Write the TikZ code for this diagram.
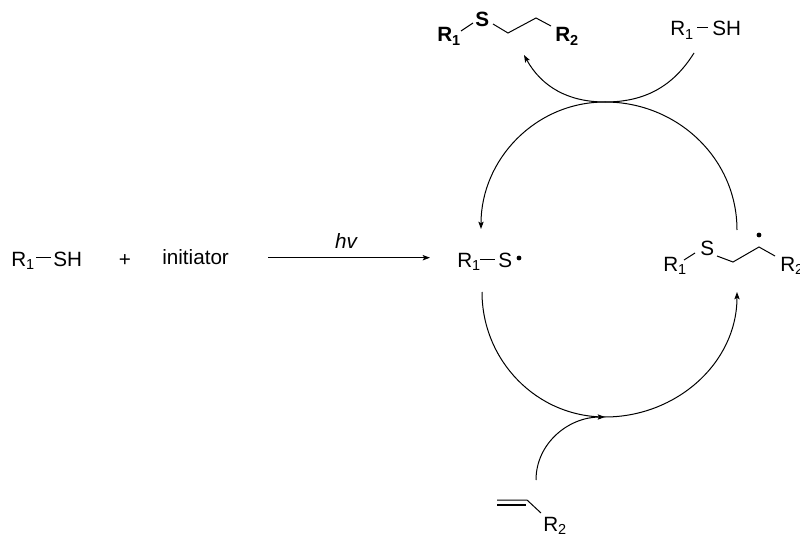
\documentclass[tikz,border=0pt]{standalone}
\usepackage{fontspec}
\setmainfont{Liberation Sans}
\usepackage{tikz}
\usetikzlibrary{arrows.meta}

\begin{document}
\begin{tikzpicture}[
  x=0.75pt, y=0.75pt,
  chem/.style={inner sep=0pt, anchor=base west, font=\fontsize{15.5}{18}\selectfont},
  chembf/.style={chem, font=\fontsize{15.5}{18}\selectfont\bfseries},
  bond/.style={line width=0.75pt},
  arc/.style={line width=0.75pt},
  ar/.style={-{Stealth[length=5.5pt, width=4pt, inset=1.2pt]}, line width=0.75pt},
  radical/.style={circle, fill=black, inner sep=0pt, minimum size=3.6pt}
]
  \useasboundingbox (0,0) rectangle (800,533);

  % left: reactants
  \node[chem] (lr) at (11,266.5) {R\textsubscript{1}};
  \node[chem] (lsh) at (53,266.5) {SH};
  \node[chem, anchor=base] (plus) at (125,267) {+};
  \node[chem] (init) at (162,268) {initiator};
  \coordinate (lba) at (36,275.3);
  \coordinate (lbb) at (51,275.3);
  \draw[bond] (lba) -- (lbb);
  \coordinate (hva) at (268,275.3);
  \coordinate (hvb) at (430,275.3);
  \draw[ar] (hva) -- (hvb);
  \node[chem, anchor=base, font=\fontsize{15.5}{18}\selectfont\itshape] (hv) at (346,285) {hv};

  % thiyl radical
  \node[chem] (rr) at (457,266) {R\textsubscript{1}};
  \node[chem] (rs) at (498,266) {S};
  \node[radical] (rdot) at (519,275) {};
  \coordinate (rba) at (480,274);
  \coordinate (rbb) at (495,274);
  \draw[bond] (rba) -- (rbb);

  % carbon radical
  \node[chem] (cr) at (663,262) {R\textsubscript{1}};
  \node[chem] (cs) at (700,278) {S};
  \node[chem] (crb) at (780,262) {R\textsubscript{2}};
  \node[radical] (cdot) at (759,298) {};
  \coordinate (ca) at (684,273);
  \coordinate (cb) at (695,280);
  \coordinate (cc) at (717,277);
  \coordinate (cd) at (733,271);
  \coordinate (ce) at (759,286);
  \coordinate (cf) at (775,277);
  \draw[bond] (ca) -- (cb);
  \draw[bond] (cc) -- (cd) -- (ce) -- (cf);

  % product
  \node[chembf] (pr) at (437,491.3) {R\textsubscript{1}};
  \node[chembf] (ps) at (475,506) {S};
  \node[chembf] (prb) at (555,491.3) {R\textsubscript{2}};
  \coordinate (pa) at (461,502);
  \coordinate (pb) at (473,510);
  \coordinate (pc) at (493,509);
  \coordinate (pd) at (508,500);
  \coordinate (pe) at (536,515);
  \coordinate (pf) at (551,507);
  \draw[bond] (pa) -- (pb);
  \draw[bond] (pc) -- (pd) -- (pe) -- (pf);

  % thiol, top right
  \node[chem] (tr) at (670,497) {R\textsubscript{1}};
  \node[chem] (tsh) at (712,497) {SH};
  \coordinate (tba) at (697,505);
  \coordinate (tbb) at (708,505);
  \draw[bond] (tba) -- (tbb);

  % alkene
  \node[chem] (vr) at (543,2) {R\textsubscript{2}};
  \coordinate (va) at (497,33);
  \coordinate (vb) at (527,33);
  \coordinate (vc) at (497,28);
  \coordinate (vd) at (526,28);
  \coordinate (ve) at (541,20);
  \draw[bond] (va) -- (vb) -- (ve);
  \draw[line width=1pt] (vc) -- (vd);

  % cycle
  \coordinate (top) at (605,431);
  \coordinate (bot) at (605,116);
  \coordinate (tin) at (694,480);
  \coordinate (tout) at (524,478);
  \coordinate (lup) at (481,304);
  \coordinate (ldn) at (482,241);
  \coordinate (rup) at (737,303);
  \coordinate (rdn) at (737,241);
  \coordinate (vin) at (536,53);
  \draw[arc] (rup) to[out=90, in=0] (top);
  \draw[ar] (top) to[out=180, in=90] (lup);
  \draw[arc] (ldn) to[out=270, in=180] (bot);
  \draw[ar] (bot) to[out=0, in=270] (rdn);
  \draw[arc] (tin) to[out=238, in=0] (top);
  \draw[ar] (top) to[out=180, in=299] (tout);
  \draw[ar] (vin) to[out=90, in=180] (bot);
\end{tikzpicture}
\end{document}
